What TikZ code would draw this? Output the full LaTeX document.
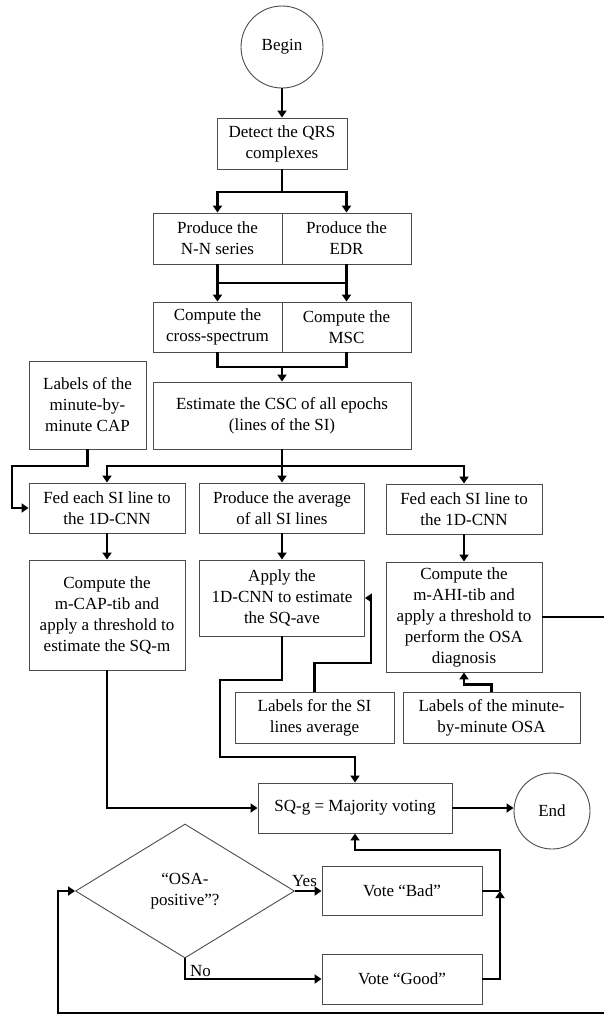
\documentclass[tikz,border=0pt]{standalone}
\usepackage{fontspec}
\setmainfont{Liberation Serif}
\usetikzlibrary{arrows.meta}
\usetikzlibrary{shapes.geometric}
\tikzset{
  box/.style = {draw=black!70, line width=0.9pt, align=center, inner sep=2pt},
  terminal/.style = {circle, draw=black!70, line width=0.9pt, inner sep=0pt, minimum size=#1},
  terminal/.default = {80pt},
  decision/.style = {diamond, draw=black!70, line width=0.9pt, inner sep=0pt, align=center, minimum width=219pt, minimum height=134pt},
  flow/.style = {line width=2.8pt, -{Triangle[length=7pt,width=9pt]}},
  link/.style = {line width=2.8pt}
}

\begin{document}
\begin{tikzpicture}[x=1pt,y=-1pt,font=\fontsize{17}{21}\selectfont]
\useasboundingbox (0,0) rectangle (603,1015);

\node[terminal=82pt] (begin) at (282,47) {Begin};
\node[box, minimum width=130pt, minimum height=51pt] (qrs) at (282,143.5) {Detect the QRS\\complexes};
\node[box, minimum width=129pt, minimum height=51pt] (nn) at (217.5,238.5) {Produce the\\N-N series};
\node[box, minimum width=129pt, minimum height=51pt] (edr) at (346.5,238.5) {Produce the\\EDR};
\node[box, minimum width=129pt, minimum height=50pt] (cross) at (217.5,327) {Compute the\\cross-spectrum};
\node[box, minimum width=129pt, minimum height=50pt] (msc) at (346.5,327) {Compute the\\MSC};
\node[box, minimum width=258pt, minimum height=67pt] (csc) at (282,415.5) {Estimate the CSC of all epochs\\(lines of the SI)};
\node[box, minimum width=117pt, minimum height=88pt] (cap) at (87.5,405) {Labels of the\\minute-by-\\minute CAP};

\node[box, minimum width=156pt, minimum height=50pt] (fed1) at (107,508) {Fed each SI line to\\the 1D-CNN};
\node[box, minimum width=165pt, minimum height=50pt] (avg) at (282,508) {Produce the average\\of all SI lines};
\node[box, minimum width=156pt, minimum height=50pt] (fed2) at (464,509) {Fed each SI line to\\the 1D-CNN};

\node[box, minimum width=156pt, minimum height=110pt] (mcap) at (107,615) {Compute the\\m-CAP-tib and\\apply a threshold to\\estimate the SQ-m};
\node[box, minimum width=165pt, minimum height=76pt] (apply) at (282,598) {Apply the\\1D-CNN to estimate\\the SQ-ave};
\node[box, minimum width=156pt, minimum height=110pt] (mahi) at (464,617) {Compute the\\m-AHI-tib and\\apply a threshold to\\perform the OSA\\diagnosis};

\node[box, minimum width=159pt, minimum height=51pt] (labsi) at (314.5,717.5) {Labels for the SI\\lines average};
\node[box, minimum width=177pt, minimum height=51pt] (labosa) at (491.5,717.5) {Labels of the minute-\\by-minute OSA};

\node[box, minimum width=194pt, minimum height=50pt] (sqg) at (355,808) {SQ-g = Majority voting};
\node[terminal=76pt] (end) at (552,811) {End};

\node[decision] (osa) at (185,891) {“OSA-\\positive”?};
\node[box, minimum width=160pt, minimum height=49pt] (bad) at (402,891) {Vote “Bad”};
\node[box, minimum width=160pt, minimum height=50pt] (good) at (402,979) {Vote “Good”};

%top part
\draw[flow] (begin.south) -- (qrs.north);
\coordinate (s1) at (282,192);
\draw[link] (qrs.south) -- (s1);
\draw[flow] (s1) -| (nn.north);
\draw[flow] (s1) -| (edr.north);

\coordinate (m1) at (282,283);
\draw[flow] (nn.south) -- (cross.north);
\draw[flow] (edr.south) -- (msc.north);
\draw[link] (nn.south |- m1) -- (edr.south |- m1);

\coordinate (m2) at (282,367);
\draw[link] (cross.south) |- (m2) -| (msc.south);
\draw[flow] (m2) -- (csc.north);

\coordinate (s3) at (282,466);
\draw[link] (csc.south) -- (s3);
\draw[flow] (s3) -| (fed1.north);
\draw[flow] (s3) -- (avg.north);
\draw[flow] (s3) -| (fed2.north);
\draw[flow] (cap.south) |- (12,466) |- (fed1.west);

\draw[flow] (fed1.south) -- (mcap.north);
\draw[flow] (avg.south) -- (apply.north);
\draw[flow] (fed2.south) -- (mahi.north);

%labels
\draw[flow] (labsi.north) |- (371,663) |- (apply.east);
\draw[flow] (labosa.north) -- ++(0,-7) -| (mahi.south);

%voting
\coordinate (a3) at (220,757);
\draw[flow] (apply.south) |- (a3 |- 0,680) -- (a3) -| (sqg.north);
\draw[flow] (mcap.south) |- (sqg.west);
\draw[flow] (sqg.east) -- (sqg.east -| end.west);

\draw[flow] (osa.east) -- node[above, pos=.36] (yes) {Yes} (bad.west);
\draw[flow] (osa.south) |- (good.west);
\node[anchor=south west, inner sep=1pt] (no) at (189,978) {No};

\coordinate (v1) at (500,891);
\coordinate (v2) at (500,850);
\draw[link] (bad.east) -- (v1);
\draw[flow] (good.east) -| (v1);
\draw[flow] (v1) -- (v2) -| (sqg.south);

%loop back from the OSA diagnosis
\coordinate (r1) at (612,1013);
\coordinate (l1) at (58,891);
\draw[flow] (mahi.east) -| (r1) -| (l1) -- (osa.west);
\end{tikzpicture}
\end{document}
